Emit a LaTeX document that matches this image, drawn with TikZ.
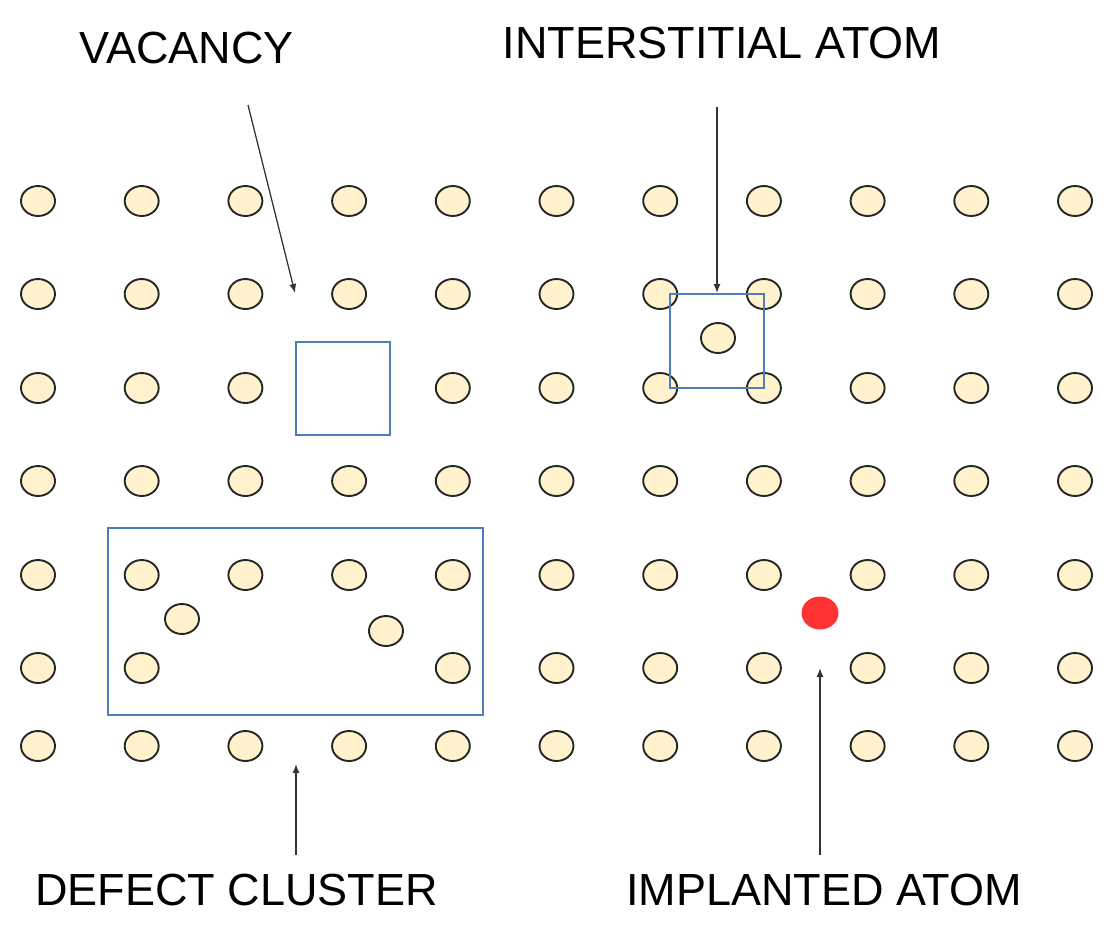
\documentclass[tikz,border=0pt]{standalone}
\usepackage{fontspec}
\setmainfont{Liberation Sans}
\usetikzlibrary{shapes.geometric,arrows.meta}
\definecolor{atomfill}{RGB}{255,242,204}
\definecolor{atomline}{RGB}{38,38,38}
\definecolor{boxblue}{RGB}{79,123,191}
\definecolor{implred}{RGB}{255,51,51}
\tikzset{
  atom/.style={ellipse, draw=atomline, fill=atomfill, line width=1.9pt, minimum width=34pt, minimum height=30pt, inner sep=0pt},
  implanted/.style={ellipse, fill=implred, minimum width=37pt, minimum height=33pt, inner sep=0pt},
  defbox/.style={rectangle, draw=boxblue, line width=1.4pt, inner sep=0pt},
  lbl/.style={anchor=base, inner sep=0pt, font=\fontsize{45}{54}\selectfont},
  pointer/.style={draw=black!80, line width=1.3pt, -{Latex[length=9pt,width=7pt]}}
}
\begin{document}
\begin{tikzpicture}[x=1pt,y=-1pt]
\useasboundingbox (0,0) rectangle (1119,938);
% lattice
\foreach \r/\y in {1/201,2/294,3/388,4/481,5/575,6/668,7/746}{
  \foreach \c in {0,...,10}{
    \pgfmathsetmacro\x{38+103.7*\c}
    \pgfmathtruncatemacro\skipit{and(\r==3,\c==3)+and(\r==6,\c==2)+and(\r==6,\c==3)}
    \ifnum\skipit=0
      \node[atom] (a-\r-\c) at (\x,\y) {};
    \fi
  }
}
% interstitials
\node[atom] (int1) at (718,338) {};
\node[atom] (int2) at (182,619) {};
\node[atom] (int3) at (386,631) {};
% implanted
\node[implanted] (impl) at (820,613) {};
% boxes
\node[defbox, minimum width=94pt, minimum height=93pt] (vacbox) at (343,388.5) {};
\node[defbox, minimum width=94pt, minimum height=94pt] (intbox) at (717,341) {};
\node[defbox, minimum width=375pt, minimum height=187pt] (clbox) at (295.5,621.5) {};
% labels
\node[lbl] (lvac) at (186.5,63) {VACANCY};
\node[lbl] (lint) at (722,58) {INTERSTITIAL ATOM};
\node[lbl] (lcl) at (236.5,905) {DEFECT CLUSTER};
\node[lbl] (limp) at (824,905) {IMPLANTED ATOM};
% arrow ends
\coordinate (vtail) at (248,105);
\coordinate (vhead) at (295,293);
\coordinate (itail) at (717,107);
\coordinate (ihead) at (717,293);
\coordinate (ctail) at (296,855);
\coordinate (chead) at (296,764);
\coordinate (ptail) at (820,855);
\coordinate (phead) at (820,668);
\draw[pointer] (vtail) -- (vhead);
\draw[pointer] (itail) -- (ihead);
\draw[pointer] (ctail) -- (chead);
\draw[pointer] (ptail) -- (phead);
\end{tikzpicture}
\end{document}
